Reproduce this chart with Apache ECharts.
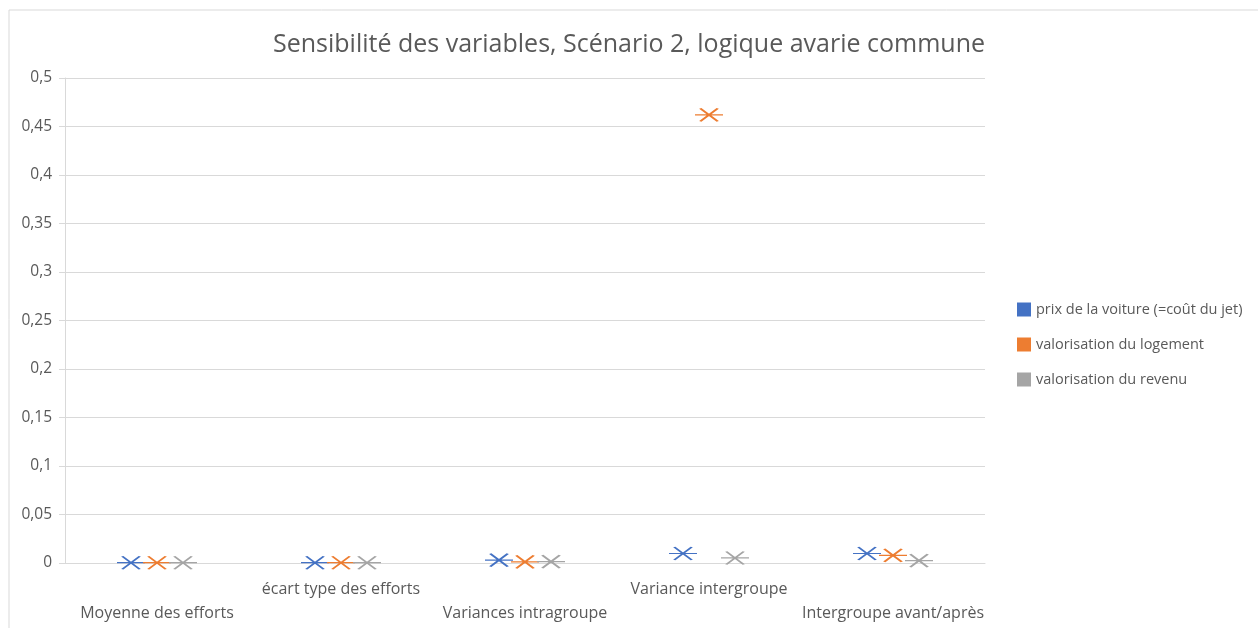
<!DOCTYPE html>
<html>
<head>
<meta charset="utf-8">
<script src="https://cdn.jsdelivr.net/npm/echarts@6/dist/echarts.min.js"></script>
<style>html,body{margin:0;padding:0;background:#fff}#c{width:1258px;height:628px}</style>
</head>
<body>
<div id="c"></div>
<script>
const categories = ['Moyenne des efforts', 'écart type des efforts', 'Variances intragroupe', 'Variance intergroupe', 'Intergroupe avant/après'];
const seriesNames = ['prix de la voiture (=coût du jet)', 'valorisation du logement', 'valorisation du revenu'];
const prixVoiture = [0.0003, 0.0003, 0.003, 0.0098, 0.0098];
const valLogement = [0.0003, 0.0003, 0.0012, 0.462, 0.0078];
const valRevenu = [0.0003, 0.0003, 0.0014, 0.0052, 0.0025];
const yTicks = { min: 0, max: 0.5, interval: 0.05 };

const colors = ['#4472C4', '#ED7D31', '#A5A5A5'];
const offsets = [-26, 0, 26];
const sym = 'path://M6,0 L26,14 M6,14 L26,0 M0,7 L32,7';
const font = '"Open Sans", "Noto Sans", sans-serif';
const dataSets = [prixVoiture, valLogement, valRevenu];

const chart = echarts.init(document.getElementById('c'), null, { renderer: 'canvas' });
chart.setOption({
  animation: false,
  color: colors,
  title: {
    text: 'Sensibilité des variables, Scénario 2, logique avarie commune',
    left: 'center', top: 27,
    textStyle: { fontFamily: font, fontSize: 25, fontWeight: 'normal', color: '#595959' }
  },
  legend: {
    orient: 'vertical', left: 1012, top: 297, itemGap: 20,
    itemWidth: 14, itemHeight: 14, icon: 'rect',
    data: seriesNames.map((n, k) => ({ name: n, itemStyle: { color: colors[k], borderColor: colors[k], borderWidth: 0, opacity: 1 } })),
    textStyle: { fontFamily: font, fontSize: 14.5, color: '#595959' }
  },
  graphic: [{ type: 'rect', shape: { x: 9, y: 10, width: 1300, height: 700 }, style: { fill: 'none', stroke: '#d9d9d9', lineWidth: 1 }, silent: true }],
  grid: { left: 65, right: 273, top: 78, bottom: 65 },
  xAxis: {
    type: 'category', data: categories,
    axisLine: { lineStyle: { color: '#d9d9d9' } },
    axisTick: { show: false },
    axisLabel: {
      interval: 0, margin: 14, lineHeight: 24,
      fontFamily: font, fontSize: 16, color: '#595959',
      formatter: (v, i) => (i % 2 === 0 ? '\n' + v : v)
    },
    splitLine: { show: false }
  },
  yAxis: {
    type: 'value', min: yTicks.min, max: yTicks.max, interval: yTicks.interval,
    axisLine: { show: true, lineStyle: { color: '#d9d9d9' } },
    axisTick: { show: true, length: 6, lineStyle: { color: '#d9d9d9' } },
    axisLabel: {
      margin: 13, fontFamily: font, fontSize: 15.5, color: '#595959',
      formatter: v => String(Math.round(v * 100) / 100).replace('.', ',')
    },
    splitLine: { lineStyle: { color: '#d9d9d9' } }
  },
  series: seriesNames.map((name, k) => ({
    name, type: 'scatter', data: dataSets[k],
    symbol: sym, symbolSize: [28, 13], symbolOffset: [offsets[k], 0],
    itemStyle: { color: 'rgba(0,0,0,0)', borderColor: colors[k], borderWidth: 1.8, opacity: 1 }
  }))
});
</script>
</body>
</html>
